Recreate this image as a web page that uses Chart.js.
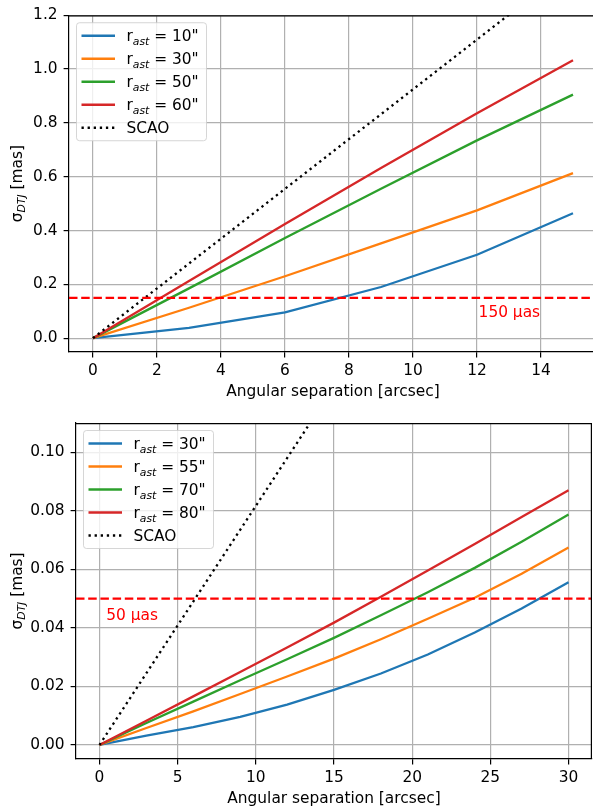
<!DOCTYPE html>
<html>
<head>
<meta charset="utf-8">
<script src="https://cdn.jsdelivr.net/npm/chart.js@4.4.1/dist/chart.umd.min.js"></script>
<style>
  body { margin: 0; background: #fff; }
  canvas { display: block; }
</style>
</head>
<body>
<canvas id="top" width="593" height="400"></canvas>
<canvas id="bottom" width="593" height="409"></canvas>
<script>
// ---- top panel data ----
const sepTop = [0, 3, 6, 9, 12, 15];
const sigTop10 = [0, 0.038, 0.096, 0.19, 0.31, 0.464];
const sigTop30 = [0, 0.113, 0.23, 0.352, 0.475, 0.613];
const sigTop50 = [0, 0.185, 0.372, 0.555, 0.735, 0.905];
const sigTop60 = [0, 0.212, 0.424, 0.632, 0.836, 1.033];
const radiiTop = [10, 30, 50, 60];
const scaoTopX = [0, 15];
const scaoTop = [0, 1.387];
const limitTop = 0.15;
const xTicksTop = [0, 2, 4, 6, 8, 10, 12, 14];
const yTicksTop = [0, 0.2, 0.4, 0.6, 0.8, 1.0, 1.2];

// ---- bottom panel data ----
const sepBot = [0, 3, 6, 9, 12, 15, 18, 21, 24, 27, 30];
const sigBot30 = [0, 0.0032, 0.0061, 0.0096, 0.0138, 0.0188, 0.0244, 0.0309, 0.0384, 0.0466, 0.0556];
const sigBot55 = [0, 0.0058, 0.0115, 0.0174, 0.0234, 0.0295, 0.0361, 0.0431, 0.0503, 0.0585, 0.0675];
const sigBot70 = [0, 0.0075, 0.0148, 0.0221, 0.0293, 0.0366, 0.0443, 0.0522, 0.0605, 0.0694, 0.0787];
const sigBot80 = [0, 0.0083, 0.0166, 0.0249, 0.0333, 0.0418, 0.0506, 0.0596, 0.0687, 0.0779, 0.0870];
const radiiBot = [30, 55, 70, 80];
const scaoBotX = [0, 30];
const scaoBot = [0, 0.245];
const limitBot = 0.05;
const xTicksBot = [0, 5, 10, 15, 20, 25, 30];
const yTicksBot = [0, 0.02, 0.04, 0.06, 0.08, 0.10];

const colors = ['#1f77b4', '#ff7f0e', '#2ca02c', '#d62728'];
const FS = 15.4;
const FONT = FS + 'px "DejaVu Sans"';
const SUB = 'italic ' + (FS * 0.7).toFixed(1) + 'px "DejaVu Sans"';
const LW = 2.3;

Chart.defaults.font.family = '"DejaVu Sans"';
Chart.defaults.font.size = FS;
Chart.defaults.color = '#000';

function pts(xs, ys) { return xs.map((x, i) => ({ x: x, y: ys[i] })); }

// draws r_ast = N" or plain text, baseline at y
function drawLabel(ctx, x, y, ds) {
  ctx.textAlign = 'left';
  ctx.textBaseline = 'alphabetic';
  ctx.fillStyle = '#000';
  ctx.font = FONT;
  if (ds.rast == null) { ctx.fillText(ds.label, x, y); return; }
  ctx.fillText('r', x, y);
  x += ctx.measureText('r').width;
  ctx.font = SUB;
  ctx.fillText('ast', x, y + 3.5);
  x += ctx.measureText('ast').width;
  ctx.font = FONT;
  ctx.fillText(' = ' + ds.rast + '"', x, y);
}

const deco = {
  id: 'deco',
  afterDraw(chart, args, o) {
    const ctx = chart.ctx, a = chart.chartArea;
    const xs = chart.scales.x, ys = chart.scales.y;
    ctx.save();
    // spines
    ctx.strokeStyle = '#000';
    ctx.lineWidth = 1.2;
    ctx.beginPath();
    ctx.moveTo(a.left, a.top + 0.6);
    ctx.lineTo(a.right, a.top + 0.6);
    if (o.rightSpine) {
      ctx.moveTo(a.right - 0.6, a.top);
      ctx.lineTo(a.right - 0.6, a.bottom);
    }
    ctx.stroke();

    // annotation
    ctx.fillStyle = '#ff0000';
    ctx.font = FONT;
    ctx.textAlign = 'left';
    ctx.textBaseline = 'alphabetic';
    ctx.fillText(o.note.text, xs.getPixelForValue(o.note.x), ys.getPixelForValue(o.note.y));

    // legend
    const items = chart.data.datasets.filter(d => d.inLegend !== false);
    const bx = a.left + 7.5, by = a.top + 7.5;
    const bw = 130, bh = 118;
    const r = 3;
    ctx.beginPath();
    ctx.moveTo(bx + r, by);
    ctx.arcTo(bx + bw, by, bx + bw, by + bh, r);
    ctx.arcTo(bx + bw, by + bh, bx, by + bh, r);
    ctx.arcTo(bx, by + bh, bx, by, r);
    ctx.arcTo(bx, by, bx + bw, by, r);
    ctx.closePath();
    ctx.fillStyle = 'rgba(255,255,255,0.8)';
    ctx.fill();
    ctx.strokeStyle = 'rgba(204,204,204,0.8)';
    ctx.lineWidth = 1;
    ctx.stroke();
    items.forEach((d, i) => {
      const cy = by + 13 + i * 23;
      ctx.beginPath();
      ctx.strokeStyle = d.borderColor;
      ctx.lineWidth = d.borderWidth;
      ctx.setLineDash(d.borderDash || []);
      ctx.moveTo(bx + 5, cy);
      ctx.lineTo(bx + 38.5, cy);
      ctx.stroke();
      ctx.setLineDash([]);
      drawLabel(ctx, bx + 50, cy + 5.5, d);
    });

    // x title
    ctx.fillStyle = '#000';
    ctx.font = FONT;
    ctx.textAlign = 'center';
    ctx.textBaseline = 'alphabetic';
    ctx.fillText('Angular separation [arcsec]', xs.getPixelForValue(o.xMid), a.bottom + 44);

    // y title
    ctx.translate(21.5, (a.top + a.bottom) / 2);
    ctx.rotate(-Math.PI / 2);
    ctx.font = FONT;
    const w1 = ctx.measureText('σ').width, w3 = ctx.measureText(' [mas]').width;
    ctx.font = SUB;
    const w2 = ctx.measureText('DTJ').width;
    let x = -(w1 + w2 + w3) / 2;
    ctx.textAlign = 'left';
    ctx.font = FONT;
    ctx.fillText('σ', x, 0);
    x += w1;
    ctx.font = SUB;
    ctx.fillText('DTJ', x, 3.5);
    x += w2;
    ctx.font = FONT;
    ctx.fillText(' [mas]', x, 0);
    ctx.restore();
  }
};

function makeChart(id, p) {
  const datasets = p.series.map((s, i) => ({
    label: 'r_ast = ' + p.radii[i] + '"',
    rast: p.radii[i],
    data: pts(p.sep, s),
    borderColor: colors[i],
    borderWidth: LW,
    order: 10 - i
  }));
  datasets.push({
    label: 'SCAO',
    data: pts(p.scaoX, p.scao),
    borderColor: '#000',
    borderWidth: LW,
    borderDash: [2.3, 3.8],
    order: 3
  });
  datasets.push({
    label: 'limit',
    inLegend: false,
    data: pts([p.xMin, p.xFull], [p.limit, p.limit]),
    borderColor: '#ff0000',
    borderWidth: LW,
    borderDash: [8.5, 3.7],
    order: 1
  });
  datasets.forEach(d => {
    d.pointRadius = 0;
    d.tension = 0;
    d.fill = false;
    d.clip = 0;
    d.borderCapStyle = 'butt';
  });

  const grid = {
    color: '#b0b0b0',
    lineWidth: 1.2,
    tickColor: '#000',
    tickWidth: 1.2,
    tickLength: 5.4
  };
  const border = { display: true, color: '#000', width: 1.2 };

  return new Chart(document.getElementById(id), {
    type: 'line',
    data: { datasets: datasets },
    plugins: [deco],
    options: {
      responsive: false,
      animation: false,
      events: [],
      layout: { autoPadding: false, padding: p.pad },
      plugins: {
        legend: { display: false },
        tooltip: { enabled: false },
        deco: { note: p.note, rightSpine: p.rightSpine, xMid: (p.xMin + p.xFull) / 2 }
      },
      scales: {
        x: {
          type: 'linear',
          min: p.xMin,
          max: p.xMax,
          afterBuildTicks: s => { s.ticks = p.xTicks.map(v => ({ value: v })); },
          afterFit: s => { s.height = p.xH; },
          ticks: { autoSkip: false, maxRotation: 0, padding: 4, color: '#000', callback: v => String(v) },
          grid: grid,
          border: border
        },
        y: {
          type: 'linear',
          min: p.yMin,
          max: p.yMax,
          afterBuildTicks: s => { s.ticks = p.yTicks.map(v => ({ value: v })); },
          afterFit: s => { s.width = p.yW; },
          ticks: { padding: 6, color: '#000', callback: v => v.toFixed(p.dec) },
          grid: grid,
          border: border
        }
      }
    }
  });
}

makeChart('top', {
  sep: sepTop,
  series: [sigTop10, sigTop30, sigTop50, sigTop60],
  radii: radiiTop,
  scaoX: scaoTopX, scao: scaoTop,
  limit: limitTop,
  xTicks: xTicksTop, yTicks: yTicksTop,
  xMin: -0.75, xMax: 15.625, xFull: 15.75,
  yMin: -0.0515, yMax: 1.2,
  dec: 1,
  pad: { top: 9, left: 0, right: 0, bottom: 0 },
  xH: 48, yW: 69,
  rightSpine: false,
  note: { text: '150 μas', x: 12.05, y: 0.079 }
});

makeChart('bottom', {
  sep: sepBot,
  series: [sigBot30, sigBot55, sigBot70, sigBot80],
  radii: radiiBot,
  scaoX: scaoBotX, scao: scaoBot,
  limit: limitBot,
  xTicks: xTicksBot, yTicks: yTicksBot,
  xMin: -1.5, xMax: 31.5, xFull: 31.5,
  yMin: -0.0048, yMax: 0.11,
  dec: 2,
  pad: { top: 23, left: 0, right: 1, bottom: 0 },
  xH: 50, yW: 76,
  rightSpine: true,
  note: { text: '50 μas', x: 0.43, y: 0.0428 }
});
</script>
</body>
</html>
